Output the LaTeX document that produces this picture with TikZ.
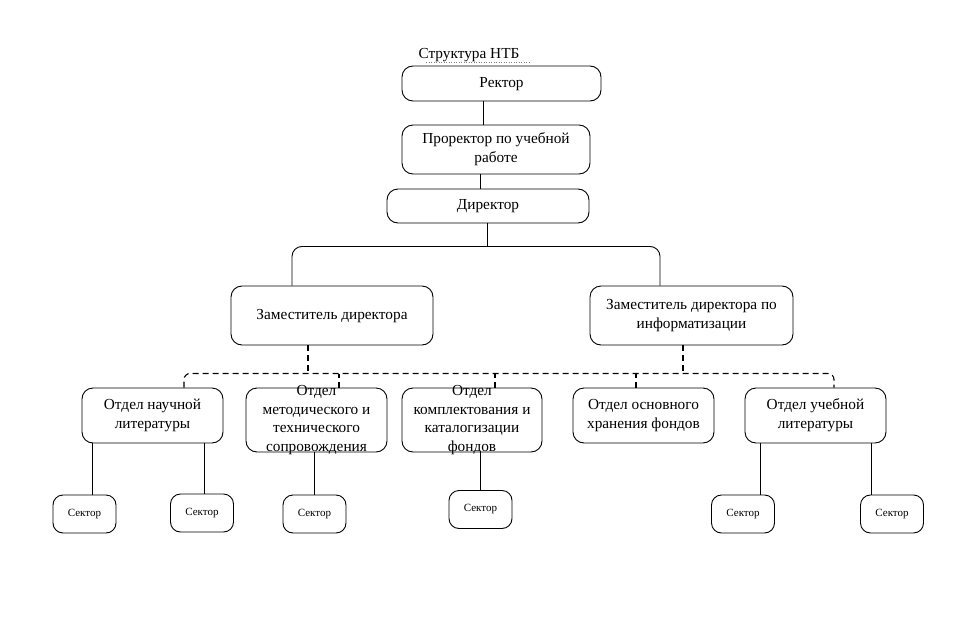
\documentclass[tikz,border=0pt]{standalone}
\usepackage{fontspec}
\setmainfont{Liberation Serif}
\newcommand{\btext}[1]{\raisebox{-3.5pt}[0pt][0pt]{\begin{tabular}{@{}c@{}}#1\end{tabular}}}

\begin{document}
\begin{tikzpicture}[x=1pt, y=-1pt, line width=0.9pt,
  box/.style={draw, rounded corners=11pt, inner sep=0pt,
    font=\fontsize{15.3}{18.5}\selectfont},
  sbox/.style={draw, rounded corners=10pt, inner sep=0pt,
    minimum width=63pt, minimum height=38pt,
    font=\fontsize{11}{13}\selectfont},
  dep/.style={line width=1.1pt, dash pattern=on 6pt off 4pt}]
  \useasboundingbox (0,0) rectangle (954,632);

  \node [font=\fontsize{15.3}{18.5}\selectfont, inner sep=0pt] (title) at (469,55) {Структура НТБ};
  \draw [gray, line width=0.5pt, dotted] ([xshift=8pt, yshift=-4pt]title.base west) -- ++(105,0);

  % upper levels
  \node [box, minimum width=199pt, minimum height=35pt] (rector)    at (501.5,83.5) {\btext{Ректор}};
  \node [box, minimum width=188pt, minimum height=49pt] (prorector) at (496,149.5)  {\btext{Проректор по учебной\\работе}};
  \node [box, minimum width=202pt, minimum height=34pt] (director)  at (488,206)    {\btext{Директор}};
  \node [box, minimum width=202pt, minimum height=59pt] (zam)       at (332,315.5)  {\btext{Заместитель директора}};
  \node [box, minimum width=203pt, minimum height=59pt] (zaminf)    at (691.5,315.5){\btext{Заместитель директора по\\информатизации}};

  \draw ([xshift=-18pt]rector.south) -- ([xshift=-18pt]rector.south |- prorector.north);
  \draw ([xshift=-16pt]prorector.south) -- ([xshift=-16pt]prorector.south |- director.north);
  \draw ([xshift=-1pt]director.south) -- ++(0,23) coordinate (fork);
  \draw [rounded corners=10pt] ([xshift=-40pt]zam.north) |- (fork) -| ([xshift=-31.5pt]zaminf.north);

  % departments
  \node [box, minimum width=141pt, minimum height=55pt] (otdnauch) at (152.5,415.5) {\btext{Отдел научной\\литературы}};
  \node [box, minimum width=141pt, minimum height=64pt] (otdmet)   at (316.5,420)   {\btext{Отдел\\методического и\\технического\\сопровождения}};
  \node [box, minimum width=140pt, minimum height=64pt] (otdkompl) at (472,420)     {\btext{Отдел\\комплектования и\\каталогизации\\фондов}};
  \node [box, minimum width=141pt, minimum height=55pt] (otdosn)   at (643.5,415.5) {\btext{Отдел основного\\хранения фондов}};
  \node [box, minimum width=141pt, minimum height=55pt] (otducheb) at (815.5,415.5) {\btext{Отдел учебной\\литературы}};

  \coordinate (bus) at (500,373.5);
  \draw [dep, rounded corners=6pt] ([xshift=31.5pt]otdnauch.north) |- (bus) -| ([xshift=18.5pt]otducheb.north);
  \draw [dep] ([xshift=-24pt]zam.south) -- ([xshift=-24pt]zam.south |- bus);
  \draw [dep] ([xshift=-8.5pt]zaminf.south) -- ([xshift=-8.5pt]zaminf.south |- bus);
  \draw [dep] ([xshift=22.5pt]otdmet.north) -- ([xshift=22.5pt]otdmet.north |- bus);
  \draw [dep] ([xshift=23pt]otdkompl.north) -- ([xshift=23pt]otdkompl.north |- bus);
  \draw [dep] ([xshift=-7.5pt]otdosn.north) -- ([xshift=-7.5pt]otdosn.north |- bus);

  % sectors
  \node [sbox] (s1) at (84.5,514)  {Сектор};
  \node [sbox] (s2) at (202,513)   {Сектор};
  \node [sbox] (s3) at (314.5,514) {Сектор};
  \node [sbox] (s4) at (480.5,509.5) {Сектор};
  \node [sbox] (s5) at (743,514)   {Сектор};
  \node [sbox] (s6) at (892,514)   {Сектор};

  \draw ([xshift=7.5pt]s1.north) -- ([xshift=7.5pt]s1.north |- otdnauch.south);
  \draw ([xshift=2pt]s2.north) -- ([xshift=2pt]s2.north |- otdnauch.south);
  \draw (s3.north) -- (s3.north |- otdmet.south);
  \draw (s4.north) -- (s4.north |- otdkompl.south);
  \draw ([xshift=17pt]s5.north) -- ([xshift=17pt]s5.north |- otducheb.south);
  \draw ([xshift=-21pt]s6.north) -- ([xshift=-21pt]s6.north |- otducheb.south);
\end{tikzpicture}
\end{document}
